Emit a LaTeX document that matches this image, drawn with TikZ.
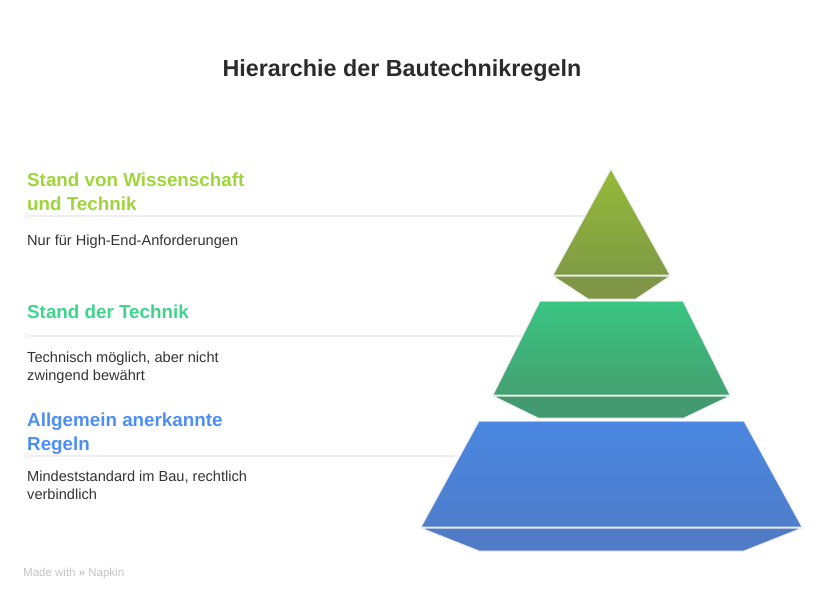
\documentclass[tikz,border=0pt]{standalone}
\usepackage{fontspec}
\setmainfont{Liberation Sans}
\definecolor{titlec}{HTML}{2B2B2B}
\definecolor{bodyc}{HTML}{333333}
\definecolor{hA}{HTML}{9ED63A}
\definecolor{hB}{HTML}{3DD68C}
\definecolor{hC}{HTML}{4C8EF7}
\definecolor{lnc}{HTML}{EEEEEE}
\definecolor{wm}{HTML}{C4C4C4}
\definecolor{aT}{HTML}{95BA39}
\definecolor{aB}{HTML}{7F9B45}
\definecolor{aL}{HTML}{7F9646}
\definecolor{bT}{HTML}{3AC583}
\definecolor{bB}{HTML}{43A171}
\definecolor{bL}{HTML}{439A71}
\definecolor{cT}{HTML}{4A87E1}
\definecolor{cB}{HTML}{4E7ECB}
\definecolor{cL}{HTML}{4F7BC7}
\begin{document}
\begin{tikzpicture}[x=1pt,y=-1pt,
  heading/.style={anchor=base west,inner sep=0pt,font=\fontsize{18.8}{23.5}\selectfont\bfseries,align=left},
  body/.style={anchor=base west,inner sep=0pt,font=\fontsize{14.6}{18}\selectfont,text=bodyc,align=left},
  guide/.style={draw=lnc,line width=1.6pt},
  dot/.style={circle,draw=lnc,fill=white,line width=1pt,inner sep=0pt,minimum size=5pt},
  face/.style={draw=white!92!black,line width=1pt,line join=round}]
\useasboundingbox (0,0) rectangle (828,600);
% title
\node[anchor=base,inner sep=0pt,font=\fontsize{23.3}{28}\selectfont\bfseries,text=titlec] (title) at (402,76) {Hierarchie der Bautechnikregeln};
% guide lines
\coordinate (e1) at (590,216);
\coordinate (e2) at (525,336);
\coordinate (e3) at (455,456);
\node[dot] (d1) at (27,216) {};
\node[dot] (d2) at (27,336) {};
\node[dot] (d3) at (27,456) {};
\draw[guide] (d1) -- (e1);
\draw[guide] (d2) -- (e2);
\draw[guide] (d3) -- (e3);
% pyramid top
\shade[top color=aT,bottom color=aB] (611,169) -- (670,275) -- (553,275) -- cycle;
\draw[face] (611,169) -- (670,275) -- (553,275) -- cycle;
\fill[aL] (553,276) -- (670,276) -- (636,299) -- (588,299) -- cycle;
\draw[face] (553,276) -- (670,276) -- (636,299) -- (588,299) -- cycle;
% middle
\shade[top color=bT,bottom color=bB] (540,301) -- (683,301) -- (730,395) -- (493,395) -- cycle;
\draw[face] (540,301) -- (683,301) -- (730,395) -- (493,395) -- cycle;
\fill[bL] (493,396) -- (730,396) -- (684,418) -- (538,418) -- cycle;
\draw[face] (493,396) -- (730,396) -- (684,418) -- (538,418) -- cycle;
% bottom
\shade[top color=cT,bottom color=cB] (479,421) -- (744,421) -- (802,527) -- (421,527) -- cycle;
\draw[face] (479,421) -- (744,421) -- (802,527) -- (421,527) -- cycle;
\fill[cL] (421,528) -- (802,528) -- (744,551) -- (479,551) -- cycle;
\draw[face] (421,528) -- (802,528) -- (744,551) -- (479,551) -- cycle;
% texts (base anchor = baseline of last line)
\node[heading,text=hA] (h1) at (27,210) {Stand von Wissenschaft\\und Technik};
\node[body] (b1) at (27,245) {Nur für High-End-Anforderungen};
\node[heading,text=hB] (h2) at (27,318) {Stand der Technik};
\node[body] (b2) at (27,380) {Technisch möglich, aber nicht\\zwingend bewährt};
\node[heading,text=hC] (h3) at (27,450) {Allgemein anerkannte\\Regeln};
\node[body] (b3) at (27,499) {Mindeststandard im Bau, rechtlich\\verbindlich};
% watermark
\node[anchor=base west,inner sep=0pt,font=\fontsize{11.5}{13}\selectfont,text=wm] (wmk) at (23,576) {Made with \raisebox{-0.5pt}{\textbf{\guillemotright}} Napkin};
\end{tikzpicture}
\end{document}
